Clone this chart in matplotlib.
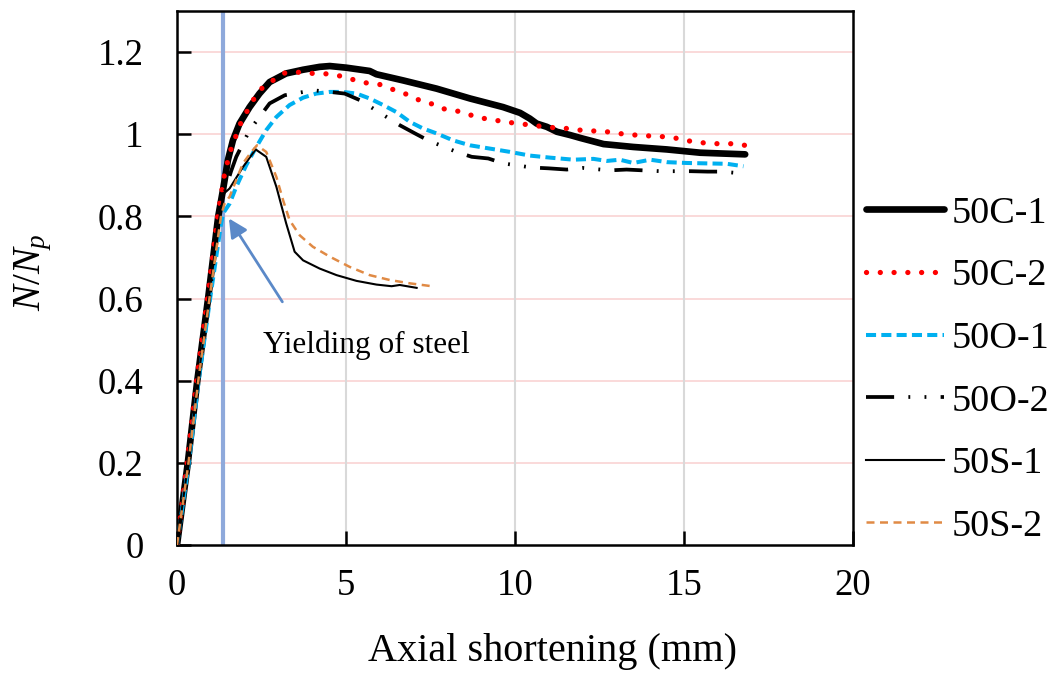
import matplotlib
matplotlib.use("Agg")
import matplotlib.pyplot as plt

plt.rcParams['font.family'] = ['Liberation Serif', 'DejaVu Serif']
plt.rcParams['mathtext.fontset'] = 'custom'
plt.rcParams['mathtext.it'] = 'Liberation Serif:italic'
plt.rcParams['mathtext.rm'] = 'Liberation Serif'

# ---------------- data ----------------
c1_x = [0, 0.32, 0.6, 0.92, 1.22, 1.36, 1.506, 1.654, 1.85, 2.148, 2.44, 2.74, 3.23, 3.73, 4.22, 4.52,
        5.01, 5.70, 5.90, 6.69, 7.68, 8.67, 9.65, 10.15, 10.44, 10.64, 10.94, 11.24, 11.63, 11.93,
        12.62, 13.5, 14.49, 15.48, 16.81]
c1_y = [0, 0.2, 0.4, 0.6, 0.8, 0.864, 0.937, 0.985, 1.026, 1.066, 1.099, 1.127, 1.148, 1.157, 1.164, 1.166,
        1.162, 1.154, 1.146, 1.131, 1.111, 1.087, 1.066, 1.052, 1.038, 1.026, 1.018, 1.006, 0.998, 0.991,
        0.976, 0.969, 0.963, 0.955, 0.951]

c2_x = [0, 0.3, 0.58, 0.9, 1.2, 1.4, 1.56, 1.753, 1.901, 2.099, 2.296, 2.543, 2.84, 3.19, 3.63, 4.02,
        4.42, 4.81, 5.21, 5.60, 6.0, 6.35, 6.74, 7.14, 7.53, 7.88, 8.27, 8.67, 9.11, 9.50, 9.90, 10.30,
        10.69, 11.14, 11.53, 11.93, 12.32, 12.72, 13.16, 13.56, 13.95, 14.4, 14.79, 15.19, 15.58, 15.98,
        16.37, 16.81]
c2_y = [0, 0.2, 0.4, 0.6, 0.8, 0.9, 0.955, 0.998, 1.030, 1.060, 1.089, 1.115, 1.131, 1.149, 1.151, 1.148,
        1.147, 1.142, 1.133, 1.125, 1.121, 1.110, 1.099, 1.084, 1.074, 1.062, 1.057, 1.047, 1.038, 1.033,
        1.028, 1.024, 1.020, 1.016, 1.014, 1.010, 1.008, 1.006, 1.001, 0.998, 0.996, 0.994, 0.990, 0.983,
        0.979, 0.977, 0.977, 0.973]

o1_x = [0, 0.35, 0.64, 0.98, 1.3, 1.36, 1.556, 1.753, 2.05, 2.346, 2.64, 2.94, 3.33, 3.73, 4.12, 4.52,
        4.91, 5.31, 5.70, 6.10, 6.49, 6.89, 7.28, 7.68, 8.17, 8.67, 9.26, 9.85, 10.44, 11.04, 11.73,
        12.32, 12.72, 13.1, 13.5, 14.0, 14.5, 15.09, 15.68, 16.27, 16.76]
o1_y = [0, 0.2, 0.4, 0.6, 0.78, 0.807, 0.831, 0.872, 0.925, 0.969, 1.010, 1.042, 1.071, 1.089, 1.099, 1.103,
        1.103, 1.099, 1.087, 1.071, 1.054, 1.030, 1.014, 1.002, 0.985, 0.973, 0.965, 0.957, 0.948, 0.943,
        0.938, 0.940, 0.935, 0.938, 0.930, 0.938, 0.932, 0.930, 0.929, 0.928, 0.922]

o2_x = [0, 0.33, 0.62, 0.95, 1.25, 1.45, 1.6, 1.753, 2.148, 2.44, 2.74, 3.19, 4.02, 4.52, 4.96, 5.41,
        6.2, 6.59, 7.04, 7.43, 8.27, 8.72, 9.21, 9.65, 10.49, 10.99, 11.53, 12.0, 12.8, 13.3, 13.8,
        14.3, 15.2, 15.7, 16.1, 16.8]
o2_y = [0, 0.2, 0.4, 0.6, 0.8, 0.87, 0.91, 0.945, 1.010, 1.042, 1.075, 1.095, 1.107, 1.103, 1.099, 1.083,
        1.042, 1.022, 1.002, 0.985, 0.957, 0.945, 0.941, 0.929, 0.919, 0.917, 0.914, 0.918, 0.912, 0.914,
        0.912, 0.910, 0.910, 0.909, 0.909, 0.904]

s1_x = [0, 0.33, 0.62, 0.94, 1.26, 1.38, 1.556, 1.95, 2.326, 2.64, 2.94, 3.23, 3.48, 3.73, 4.22, 4.72,
        5.31, 5.90, 6.35, 6.59, 7.09]
s1_y = [0, 0.2, 0.4, 0.6, 0.8, 0.855, 0.868, 0.920, 0.963, 0.945, 0.872, 0.783, 0.714, 0.693, 0.673, 0.657,
        0.643, 0.634, 0.630, 0.633, 0.626]

s2_x = [0, 0.34, 0.63, 0.96, 1.3, 1.4, 1.556, 1.95, 2.20, 2.366, 2.64, 2.94, 3.14, 3.33, 3.63, 4.02,
        4.52, 5.11, 5.70, 6.30, 6.89, 7.63]
s2_y = [0, 0.2, 0.4, 0.6, 0.8, 0.83, 0.848, 0.929, 0.957, 0.973, 0.957, 0.896, 0.839, 0.791, 0.754, 0.726,
        0.702, 0.677, 0.657, 0.645, 0.637, 0.629]

labels = ['50C-1', '50C-2', '50O-1', '50O-2', '50S-1', '50S-2']
yield_x = 1.36
x_ticks = [0, 5, 10, 15, 20]
y_ticks = [0, 0.2, 0.4, 0.6, 0.8, 1.0, 1.2]
y_tick_labels = ['0', '0.2', '0.4', '0.6', '0.8', '1', '1.2']

# ---------------- figure ----------------
fig = plt.figure(figsize=(10.57, 6.75), dpi=100)
ax = fig.add_axes([177/1057, 1-545/675, (853-177)/1057, (545-11)/675])

for y in y_ticks[1:]:
    ax.axhline(y, color='#F9D3D3', lw=1.2, zorder=0)
for x in x_ticks[1:-1]:
    ax.axvline(x, color='#D9D9D9', lw=1.5, zorder=0)

ax.axvline(yield_x, color='#8EA9DB', lw=3.0, zorder=1)

ax.plot(c1_x, c1_y, color='black', lw=4.8, solid_capstyle='round', label=labels[0], zorder=3)
ax.plot(c2_x, c2_y, color='#FF0000', lw=3.8, linestyle=(0, (0.01, 2.6)), dash_capstyle='round',
        label=labels[1], zorder=4)
ax.plot(o1_x, o1_y, color='#00B0F0', lw=2.9, linestyle=(0, (2.5, 1.3)), label=labels[2], zorder=5)
ax.plot(o2_x, o2_y, color='black', lw=2.7, linestyle=(0, (7.5, 3.8, 0.5, 3.8, 0.5, 3.8)),
        label=labels[3], zorder=6)
ax.plot(s1_x, s1_y, color='black', lw=1.5, label=labels[4], zorder=7)
ax.plot(s2_x, s2_y, color='#E08A45', lw=1.8, linestyle=(0, (3.2, 2.2)), label=labels[5], zorder=8)

ax.set_xlim(0, 20)
ax.set_ylim(0, 1.3)
ax.set_xticks(x_ticks)
ax.set_yticks(y_ticks)
ax.set_yticklabels(y_tick_labels)
ax.tick_params(direction='in', length=10, width=1.8, labelsize=26.5, pad=17, colors='black')
ax.tick_params(axis='y', pad=24)
for s in ax.spines.values():
    s.set_linewidth(1.8)
    s.set_color('black')

ax.annotate('', xy=(1.535, 0.795), xytext=(3.117, 0.592),
            arrowprops=dict(arrowstyle='-|>', color='#5B89C8', lw=2, mutation_scale=28,
                            shrinkA=0, shrinkB=0), zorder=9)
ax.text(2.53, 0.487, 'Yielding of steel', fontsize=22.5, va='center', ha='left')

fig.text(553/1057, 1-652/675, 'Axial shortening (mm)', fontsize=29, ha='center', va='center')
fig.text(33/1057, 1-272/675, r'$N/N_p$', fontsize=28, ha='center', va='center', rotation=90)

leg = ax.legend(loc='upper left', bbox_to_anchor=(866/1057, 1-196/675), bbox_transform=fig.transFigure,
                frameon=False, fontsize=27.5, handlelength=2.05, handletextpad=0.18, labelspacing=0.73,
                borderpad=0, borderaxespad=0)

fig.savefig('out.png', dpi=100)
